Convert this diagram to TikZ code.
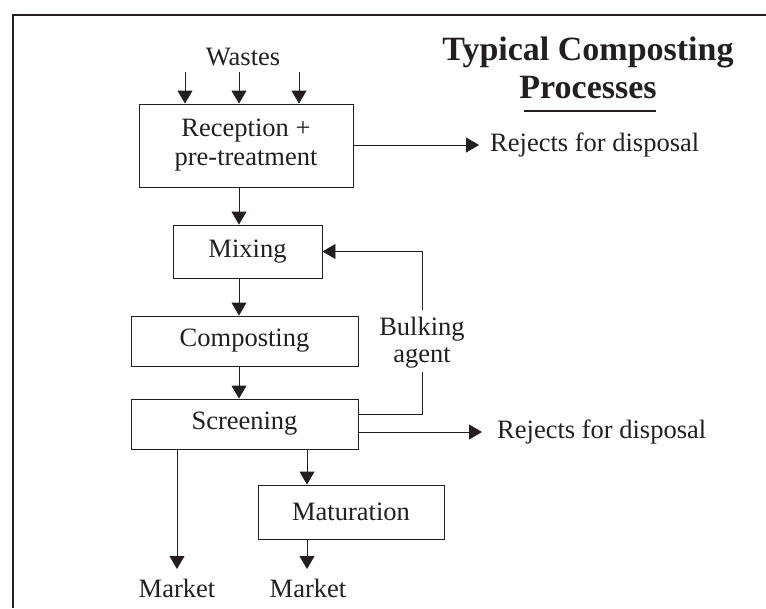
\documentclass[tikz,border=0pt]{standalone}
\usepackage{fontspec}
\setmainfont{Liberation Serif}
\usetikzlibrary{arrows.meta,calc}
\definecolor{ink}{RGB}{35,31,32}
\begin{document}
\begin{tikzpicture}[x=1pt,y=-1pt,
  every node/.style={font=\fontsize{26.5}{29}\selectfont, text=ink},
  stagebox/.style={draw=ink, line width=0.9pt, inner sep=0pt, align=center},
  lbl/.style={inner sep=0pt, align=center},
  titletxt/.style={inner sep=0pt, font=\fontsize{34}{36}\bfseries\selectfont},
  flow/.style={draw=ink, line width=0.9pt, -{Triangle[length=13pt,width=15pt]}},
  wire/.style={draw=ink, line width=0.9pt}]
\useasboundingbox (0,0) rectangle (766,608);

% frame
\draw[line width=2pt, ink] (13,608) -- (13,15) -- (766,15);

% title
\node[titletxt] (t1) at (588,52) {Typical Composting};
\node[titletxt] (t2) at (588,88) {Processes};
\draw[line width=2pt, ink] (524,111) -- (656,111);

% process stages
\node[lbl] (wastes) at (243,57) {Wastes};
\node[stagebox, minimum width=214pt, minimum height=83pt] (rec) at (246,145.5) {Reception +\\pre-treatment};
\node[stagebox, minimum width=149pt, minimum height=53pt] (mix) at (247.5,251.5) {Mixing};
\node[stagebox, minimum width=227pt, minimum height=50pt] (comp) at (244.5,341) {Composting};
\node[stagebox, minimum width=227pt, minimum height=50pt] (scr) at (244.5,424) {Screening};
\node[stagebox, minimum width=186pt, minimum height=54pt] (mat) at (351,512) {Maturation};

% outputs
\node[lbl, anchor=west] (rej1) at (490,145) {Rejects for disposal};
\node[lbl, anchor=west] (rej2) at (497,432) {Rejects for disposal};
\node[lbl, font=\fontsize{26.5}{27}\selectfont] (bulk) at (422,343) {Bulking\\agent};
\node[lbl] (mk1) at (177,588) {Market};
\node[lbl] (mk2) at (308,588) {Market};

% helper points
\coordinate (w1) at (185,72);
\coordinate (w2) at (239,72);
\coordinate (w3) at (299,72);
\coordinate (spine) at (239,0);
\coordinate (r1end) at (479,145);
\coordinate (r2end) at (482,432);
\coordinate (lcol) at (177,0);
\coordinate (rcol) at (307,0);

% connectors
\draw[flow] (w1) -- (w1 |- rec.north);
\draw[flow] (w2) -- (w2 |- rec.north);
\draw[flow] (w3) -- (w3 |- rec.north);
\draw[flow] (spine |- rec.south) -- (spine |- mix.north);
\draw[flow] (spine |- mix.south) -- (spine |- comp.north);
\draw[flow] (spine |- comp.south) -- (spine |- scr.north);
\draw[flow] (rec.east |- r1end) -- (r1end);
\draw[flow] (scr.east |- r2end) -- (r2end);
\draw[wire] ($(scr.east)+(0,-10)$) -- (422,414) -- (422,372);
\draw[flow] (422,310) |- (mix.east);
\draw[flow] (lcol |- scr.south) -- (lcol |- 0,569);
\draw[flow] (rcol |- scr.south) -- (rcol |- mat.north);
\draw[flow] (rcol |- mat.south) -- (rcol |- 0,569);
\end{tikzpicture}
\end{document}
